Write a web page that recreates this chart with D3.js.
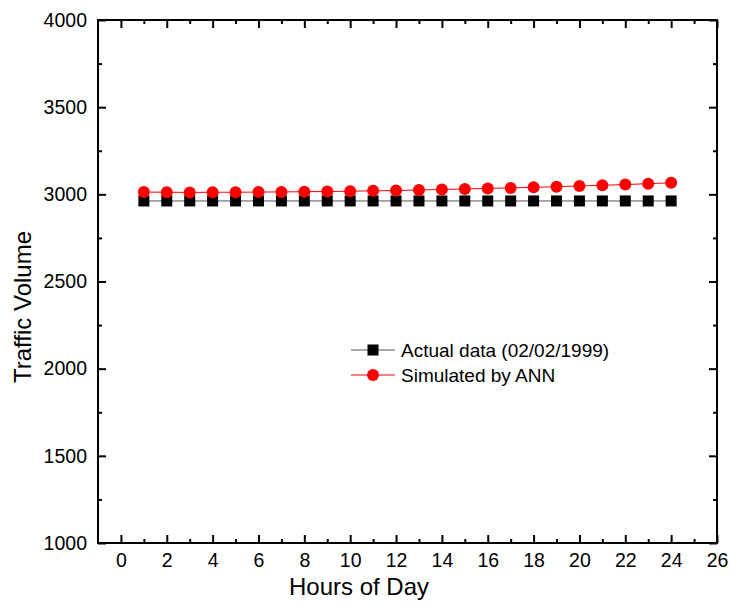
<!DOCTYPE html>
<html>
<head>
<meta charset="utf-8">
<script src="https://cdn.jsdelivr.net/npm/d3@7"></script>
<style>
  body { margin: 0; background: #fff; }
  text { font-family: "Liberation Sans", Arial, sans-serif; fill: #000; }
</style>
</head>
<body>
<div id="chart"></div>
<script>
// data
let hours = d3.range(1, 25);
let actual = [2962, 2962, 2962, 2962, 2962, 2962, 2962, 2962, 2962, 2962, 2962, 2962,
              2962, 2962, 2962, 2962, 2962, 2962, 2962, 2962, 2962, 2962, 2962, 2962];
let simulated = [3013, 3012, 3011, 3012, 3012, 3013, 3014, 3015, 3016, 3018, 3020, 3022,
                 3025, 3028, 3031, 3034, 3037, 3040, 3044, 3048, 3052, 3056, 3061, 3066];
let seriesNames = ["Actual data (02/02/1999)", "Simulated by ANN"];
let xTicks = d3.range(0, 27, 2);
let xMinor = d3.range(1, 26, 2);
let yTicks = d3.range(1000, 4001, 500);
let yMinor = d3.range(1250, 4000, 500);

let width = 731, height = 606;
let margin = { top: 20, left: 98, right: 14, bottom: 63 };
let chartWidth = width - margin.left - margin.right;
let chartHeight = height - margin.top - margin.bottom;

let svg = d3.select("#chart").append("svg")
  .attr("width", width)
  .attr("height", height);

let chart = svg.append("g")
  .attr("transform", "translate(" + margin.left + "," + margin.top + ")");

let x = d3.scaleLinear().domain([-1, 26]).range([0, chartWidth]);
let y = d3.scaleLinear().domain([1000, 4000]).range([chartHeight, 0]);

// inward ticks on all four sides
function makeAxis(axisFn, scale, vals, len, withLabels) {
  let a = axisFn(scale)
    .tickValues(vals)
    .tickSizeInner(-len)
    .tickSizeOuter(0)
    .tickPadding(len + 10)
    .tickFormat(d3.format("d"));
  if (!withLabels) a.tickFormat("");
  return a;
}

let axisBottomG = chart.append("g").attr("transform", "translate(0," + chartHeight + ")");
axisBottomG.call(makeAxis(d3.axisBottom, x, xTicks, 8, true));
axisBottomG.append("g").call(makeAxis(d3.axisBottom, x, xMinor, 4, false));

let axisTopG = chart.append("g");
axisTopG.call(makeAxis(d3.axisTop, x, xTicks, 8, false));
axisTopG.append("g").call(makeAxis(d3.axisTop, x, xMinor, 4, false));

let axisLeftG = chart.append("g");
axisLeftG.call(makeAxis(d3.axisLeft, y, yTicks, 8, true));
axisLeftG.append("g").call(makeAxis(d3.axisLeft, y, yMinor, 4, false));

let axisRightG = chart.append("g").attr("transform", "translate(" + chartWidth + ",0)");
axisRightG.call(makeAxis(d3.axisRight, y, yTicks, 8, false));
axisRightG.append("g").call(makeAxis(d3.axisRight, y, yMinor, 4, false));

chart.selectAll(".domain").remove();
chart.selectAll(".tick line").attr("stroke", "#000").attr("stroke-width", 2);
chart.selectAll(".tick text")
  .attr("fill", "#000")
  .style("font-size", "19.5px")
  .style("font-family", "'Liberation Sans', Arial, sans-serif");
axisBottomG.selectAll(".tick text").attr("y", 10);
axisLeftG.selectAll(".tick text").attr("x", -11);

chart.append("rect")
  .attr("width", chartWidth)
  .attr("height", chartHeight)
  .attr("fill", "none")
  .attr("stroke", "#000")
  .attr("stroke-width", 2);

// lines
let line = d3.line().x((d, i) => x(hours[i])).y(d => y(d));

chart.append("path")
  .datum(actual)
  .attr("d", line)
  .attr("fill", "none")
  .attr("stroke", "#555")
  .attr("stroke-width", 1);

chart.append("path")
  .datum(simulated)
  .attr("d", line)
  .attr("fill", "none")
  .attr("stroke", "#f00")
  .attr("stroke-width", 1);

let sq = 11;
chart.selectAll(".sq")
  .data(actual)
  .join("rect")
  .attr("class", "sq")
  .attr("x", (d, i) => x(hours[i]) - sq / 2)
  .attr("y", d => y(d) - sq / 2)
  .attr("width", sq)
  .attr("height", sq)
  .attr("fill", "#000");

chart.selectAll(".dot")
  .data(simulated)
  .join("circle")
  .attr("class", "dot")
  .attr("cx", (d, i) => x(hours[i]))
  .attr("cy", d => y(d))
  .attr("r", 6)
  .attr("fill", "#f00");

// legend
let legend = svg.append("g").attr("transform", "translate(351,350)");
legend.append("line").attr("x1", 0).attr("x2", 44).attr("y1", 0).attr("y2", 0)
  .attr("stroke", "#555").attr("stroke-width", 1);
legend.append("rect").attr("x", 22 - sq / 2).attr("y", -sq / 2).attr("width", sq).attr("height", sq).attr("fill", "#000");
legend.append("text").attr("x", 50).attr("y", 7).style("font-size", "19px").text(seriesNames[0]);

legend.append("line").attr("x1", 0).attr("x2", 44).attr("y1", 25).attr("y2", 25)
  .attr("stroke", "#f00").attr("stroke-width", 1);
legend.append("circle").attr("cx", 22).attr("cy", 25).attr("r", 6).attr("fill", "#f00");
legend.append("text").attr("x", 50).attr("y", 32).style("font-size", "19px").text(seriesNames[1]);

// axis titles
svg.append("text")
  .attr("x", 359)
  .attr("y", 595)
  .attr("text-anchor", "middle")
  .style("font-size", "24px")
  .text("Hours of Day");

svg.append("text")
  .attr("transform", "translate(31,307) rotate(-90)")
  .attr("text-anchor", "middle")
  .style("font-size", "24px")
  .text("Traffic Volume");
</script>
</body>
</html>
